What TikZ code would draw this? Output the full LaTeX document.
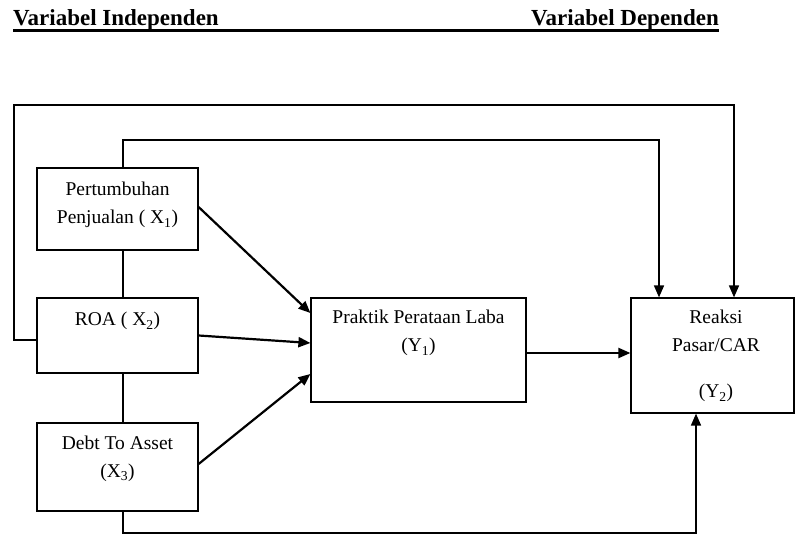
\documentclass[tikz,border=0pt]{standalone}
\usepackage{fontspec}
\setmainfont{Liberation Serif}
\usetikzlibrary{arrows.meta}
\begin{document}
\begin{tikzpicture}[x=1pt,y=-1pt,
  box/.style={draw,line width=1.2pt,inner sep=0pt,minimum width=#1},
  lbl/.style={anchor=base,inner sep=0pt,font=\fontsize{19.5}{23}\selectfont},
  hdr/.style={inner sep=0pt,font=\fontsize{23}{27}\selectfont\bfseries},
  arr/.style={line width=2.2pt,-{Triangle[length=12pt,width=10pt]}},
  loopln/.style={line width=1.4pt},
  looparr/.style={line width=1.6pt,-{Triangle[length=12pt,width=10pt]}}]
\useasboundingbox (0,0) rectangle (795,534);
% header
\node[hdr,anchor=base west] (h1) at (13,26) {Variabel Independen};
\node[hdr,anchor=base east] (h2) at (719,26) {Variabel Dependen};
\draw[line width=3pt] (h1.base west)+(0,5) -- ([yshift=-5pt]h2.base east);
% boxes
\node[box=161pt,minimum height=82pt] (x1) at (117.5,209) {};
\node[box=161pt,minimum height=75pt] (x2) at (117.5,335.5) {};
\node[box=161pt,minimum height=88pt] (x3) at (117.5,467) {};
\node[box=215pt,minimum height=104pt] (y1) at (418.5,350) {};
\node[box=163pt,minimum height=115pt] (y2) at (712.5,355.5) {};
% labels
\node[lbl] (t1a) at (117.5,196) {Pertumbuhan};
\node[lbl] (t1b) at (117.5,224) {Penjualan ( X\textsubscript{1})};
\node[lbl] (t2a) at (117.5,326) {ROA ( X\textsubscript{2})};
\node[lbl] (t3a) at (117.5,449) {Debt To Asset};
\node[lbl] (t3b) at (117.5,477) {(X\textsubscript{3})};
\node[lbl] (u1a) at (418.5,324) {Praktik Perataan Laba};
\node[lbl] (u1b) at (418.5,352) {(Y\textsubscript{1})};
\node[lbl] (u2a) at (716,324) {Reaksi};
\node[lbl] (u2b) at (716,352) {Pasar/CAR};
\node[lbl] (u2c) at (716,398) {(Y\textsubscript{2})};
% helper coordinates
\coordinate (vx) at (123,0);
\coordinate (tin) at (659,140);
\coordinate (tout) at (734,105);
\coordinate (lout) at (14,340);
\coordinate (bot) at (696,533);
% vertical links
\draw[loopln] (x1.south -| vx) -- (x2.north -| vx);
\draw[loopln] (x2.south -| vx) -- (x3.north -| vx);
% loops to Y2
\draw[looparr] (x1.north -| vx) |- (tin) -- (tin |- y2.north);
\draw[looparr] (x2.west |- lout) -- (lout) |- (tout) -- (tout |- y2.north);
\draw[looparr] (x3.south -| vx) |- (bot) -- (bot |- y2.south);
% arrows to Y1
\draw[arr] ([yshift=2pt]x1.east) -- ([yshift=37pt]y1.west);
\draw[arr] (x2.east) -- ([yshift=7pt]y1.west);
\draw[arr] ([yshift=3pt]x3.east) -- ([yshift=-24pt]y1.west);
% Y1 -> Y2
\draw[arr] ([yshift=-3pt]y1.east) -- ([yshift=-3pt]y1.east -| y2.west);
\end{tikzpicture}
\end{document}
